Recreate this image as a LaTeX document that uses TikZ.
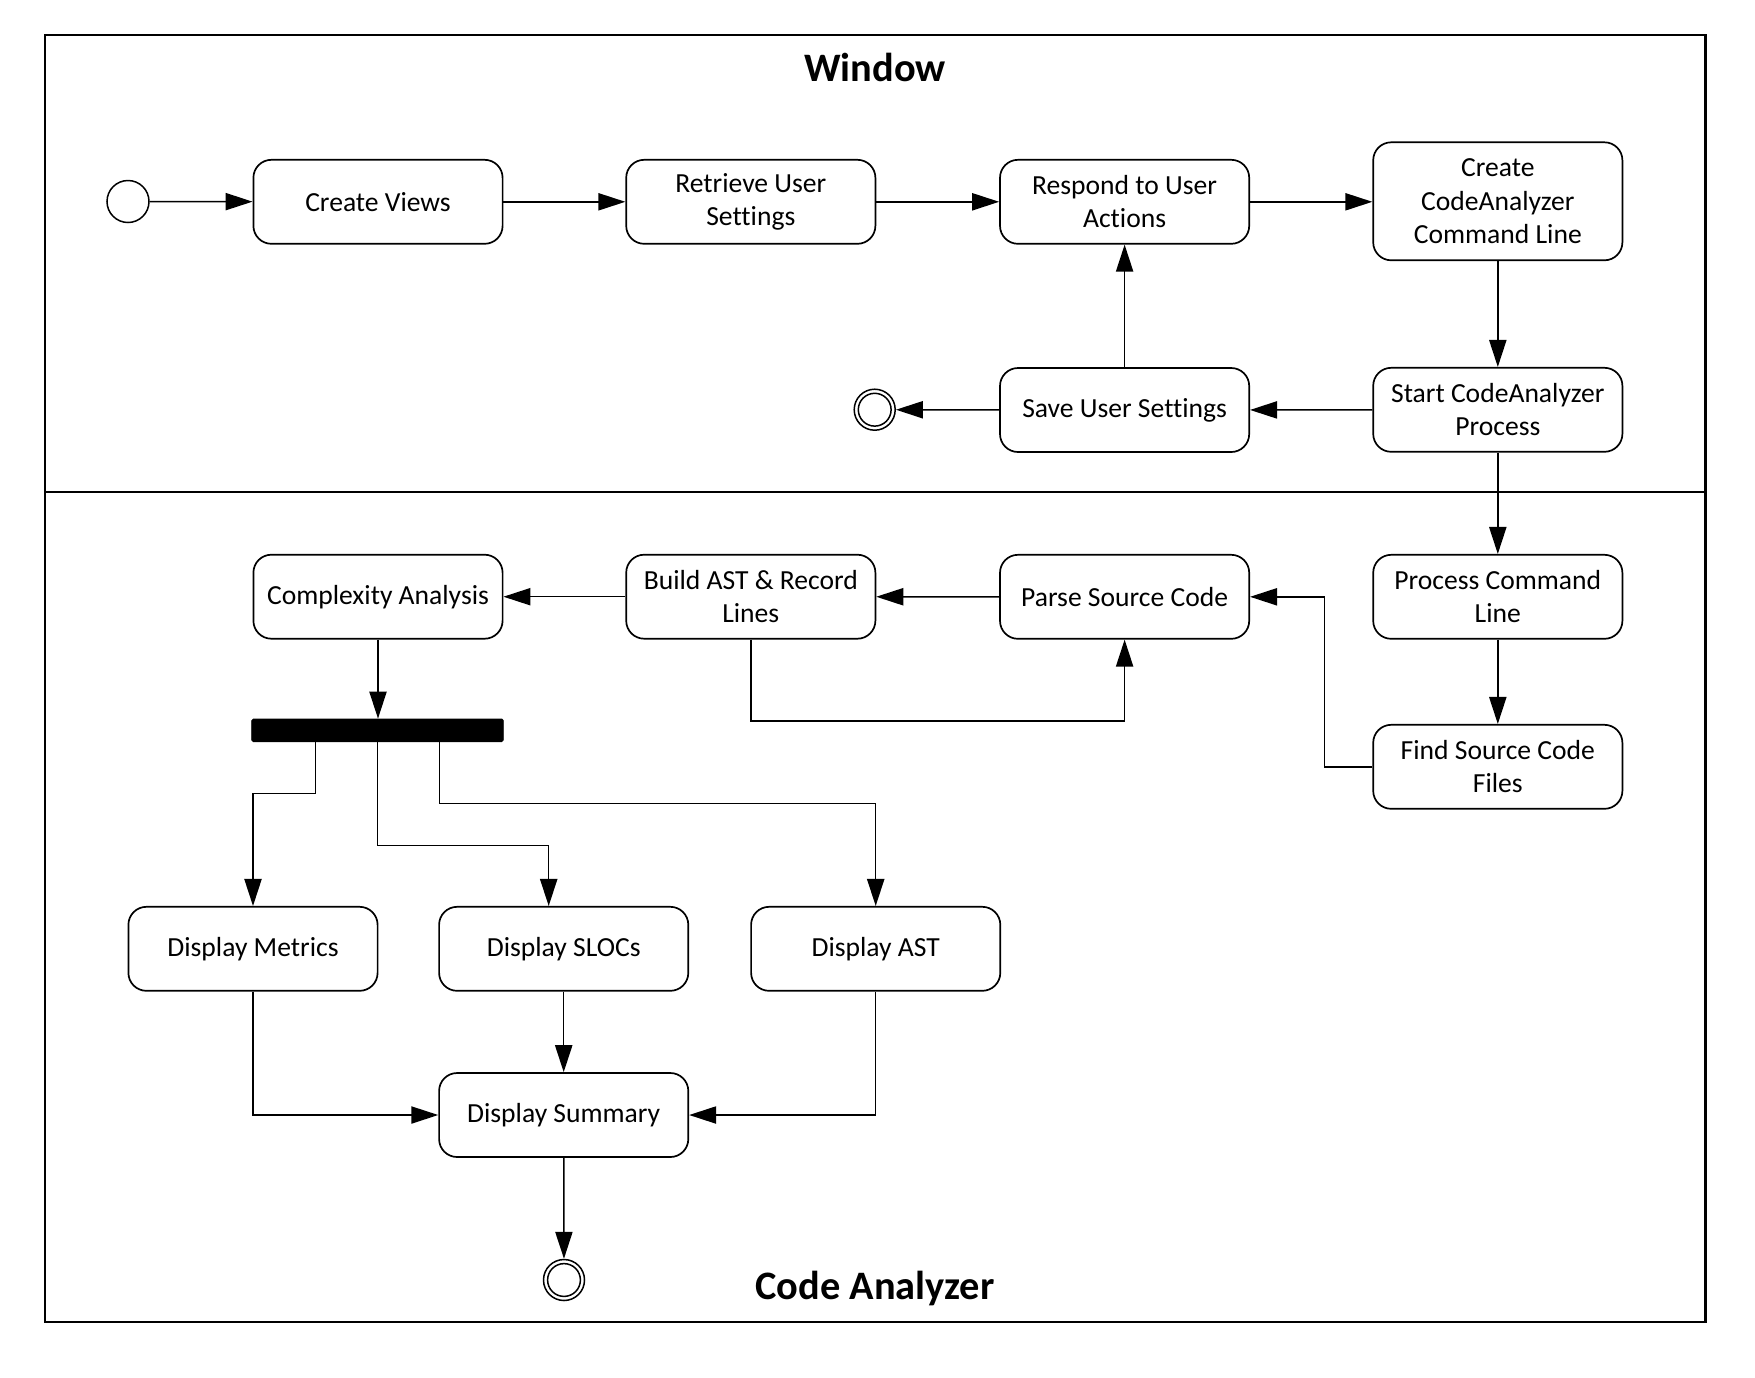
\documentclass[tikz,border=0pt]{standalone}
\usepackage{fontspec}
\setmainfont{Carlito}[Ligatures={NoCommon}]
\usetikzlibrary{arrows.meta,calc}
\begin{document}
\begin{tikzpicture}[x=0.5pt,y=-0.5pt,
  act/.style={draw, line width=0.85pt, rounded corners=9pt, align=center,
    minimum width=124.6pt, minimum height=42pt, inner sep=2pt,
    font=\fontsize{13.8}{16.6}\selectfont},
  tallact/.style={act, minimum height=59pt},
  arr/.style={line width=0.75pt, -{Triangle[length=13.5pt,width=8.6pt]}},
  initnode/.style={circle, draw, line width=0.75pt, minimum size=21pt, inner sep=0pt},
  finalnode/.style={circle, draw, line width=0.75pt, minimum size=20.5pt, inner sep=0pt,
    path picture={\draw[line width=0.75pt] (path picture bounding box.center) circle (8.2pt);}},
  forkbar/.style={fill=black, draw=black, rounded corners=0.8pt, minimum width=125.8pt,
    minimum height=11.3pt, inner sep=0pt},
  lanetitle/.style={font=\fontsize{20.2}{24}\selectfont\bfseries, anchor=base, inner sep=0pt}
]
\useasboundingbox (0,0) rectangle (1755,1377);
% swimlanes
\draw[line width=1.2pt] (44.7,34.7) rectangle (1705.3,1321.7);
\draw[line width=1.2pt] (44.7,491.7) -- (1705.3,491.7);
\node[lanetitle] (tw) at (875,81.7) {Window};
\node[lanetitle] (tc) at (875,1299.3) {Code Analyzer};

% Window lane
\node[initnode] (start) at (128,201.5) {};
\node[act] (cviews) at (378,201.8) {Create Views};
\node[act] (retrieve) at (750.8,201.8) {Retrieve User\\Settings};
\node[act] (respond) at (1124.6,201.8) {Respond to User\\Actions};
\node[tallact] (createca) at (1497.8,201.3) {Create\\CodeAnalyzer\\Command Line};
\node[act] (startca) at (1497.8,409.8) {Start CodeAnalyzer\\Process};
\node[act] (save) at (1124.6,410) {Save User Settings};
\node[finalnode] (end1) at (874.7,409.7) {};

% Code Analyzer lane
\node[act] (process) at (1497.8,596.8) {Process Command\\Line};
\node[act] (find) at (1497.8,766.8) {Find Source Code\\Files};
\node[act] (parse) at (1124.6,596.8) {Parse Source Code};
\node[act] (build) at (750.8,596.7) {Build AST \& Record\\Lines};
\node[act] (complexity) at (378,596.7) {Complexity Analysis};
\node[forkbar] (fork) at (377.5,730.3) {};
\node[act] (metrics) at (253,948.8) {Display Metrics};
\node[act] (slocs) at (563.7,948.8) {Display SLOCs};
\node[act] (ast) at (875.7,948.8) {Display AST};
\node[act] (summary) at (563.7,1115) {Display Summary};
\node[finalnode] (end2) at (564,1280) {};

% connectors
\draw[arr] (start) -- (cviews);
\draw[arr] (cviews) -- (retrieve);
\draw[arr] (retrieve) -- (respond);
\draw[arr] (respond.east) -- (respond.east -| createca.west);
\draw[arr] (createca) -- (startca);
\draw[arr] (startca) -- (save);
\draw[arr] (save) -- (end1);
\draw[arr] (save) -- (respond);
\draw[arr] (startca) -- (process);
\draw[arr] (process) -- (find);
\draw[arr] (find.west) -- ++(-48,0) |- (parse.east);
\draw[arr] (parse) -- (build);
\draw[arr] (build) -- (complexity);
\draw[arr] (build.south) -- ++(0,81.3) -| (parse.south);
\draw[arr] (complexity.south) -- (complexity.south |- fork.north);
\draw[arr] ($(fork.south)+(-62,0)$) -- ++(0,51.6) -| (metrics.north);
\draw[arr] (fork.south) -- ++(0,103.6) -| ($(slocs.north)+(-15,0)$);
\draw[arr] ($(fork.south)+(62,0)$) -- ++(0,61.6) -| (ast.north);
\draw[arr] (metrics.south) |- (summary.west);
\draw[arr] (ast.south) |- (summary.east);
\draw[arr] (slocs) -- (summary);
\draw[arr] (summary) -- (end2);
\end{tikzpicture}
\end{document}
